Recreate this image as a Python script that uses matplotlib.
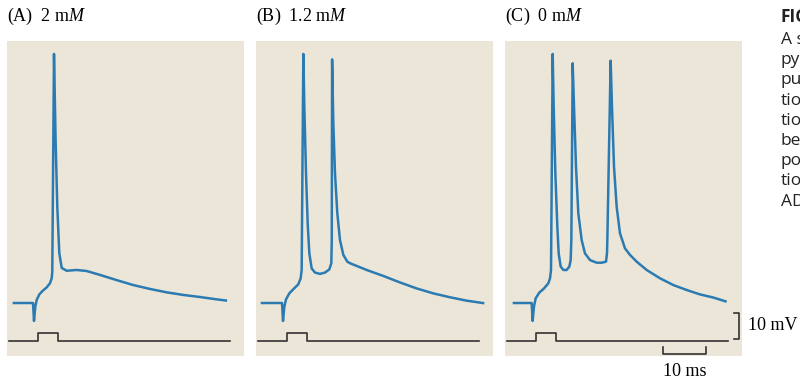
import matplotlib.pyplot as plt

# membrane potential traces (time in ms, voltage in mV)
t_a = [1.3, 6.05, 6.28, 6.58, 6.91, 7.51, 8.30, 9.23, 10.0, 10.40, 10.53, 10.93,
       11.3, 11.7, 12.16, 12.72, 13.88, 16.21, 18.53, 21.63, 25.51, 29.37, 33.26,
       37.14, 41.0, 44.88, 48.77, 51.19]
v_a = [-65, -65, -71.9, -66.4, -63.8, -61.7, -60.3, -59.0, -57.4, -55.5, -53.0, 30.8,
       -2.3, -28.1, -45.8, -51.5, -52.6, -52.3, -52.7, -54.2, -56.2, -58.1, -59.6,
       -60.9, -61.9, -62.7, -63.6, -64.1]

t_b = [1.09, 6.05, 6.28, 6.59, 6.98, 7.75, 8.68, 9.84, 10.39, 10.62, 11.01, 11.24,
       11.63, 12.02, 12.40, 12.95, 13.72, 14.88, 16.05, 17.05, 17.52, 17.62, 17.70,
       17.98, 18.37, 18.91, 19.53, 20.31, 21.24, 21.86, 25.74, 29.61, 33.49, 37.36,
       41.24, 45.12, 48.99, 53.1]
v_b = [-65, -65, -71.9, -66.4, -63.6, -61.3, -59.7, -57.8, -55.5, -52.3, 30.8, 10.5,
       -15.1, -34.4, -45.9, -51.7, -53.3, -53.8, -53.3, -52.1, -49.7, -40.8, 28.7,
       4.1, -15.1, -30.5, -40.8, -46.5, -49.1, -49.7, -52.3, -54.6, -57.1, -59.4,
       -61.3, -62.8, -64.1, -65.1]

t_c = [1.78, 6.20, 6.43, 6.74, 7.13, 7.98, 9.07, 10.08, 10.47, 10.70, 11.09, 11.32,
       11.71, 12.17, 12.48, 12.95, 13.57, 14.34, 14.96, 15.27, 15.43, 15.74, 16.05,
       16.51, 17.05, 17.83, 18.60, 19.77, 21.32, 22.48, 23.49, 23.72, 23.80, 24.57,
       24.88, 25.35, 25.97, 26.74, 27.91, 29.07, 30.62, 32.95, 36.05, 39.15, 42.25,
       45.35, 48.45, 51.55]
v_c = [-65, -65, -71.9, -66.4, -63.2, -61.0, -59.4, -57.4, -55.5, -52.3, 30.8, 10.5,
       -15.1, -35.6, -45.9, -51.0, -52.3, -52.3, -51.0, -48.5, -40.8, 27.2, 10.5,
       -12.6, -30.5, -40.8, -45.9, -48.5, -49.5, -49.5, -49.1, -45.9, -40.8, 28.2,
       10.5, -12.6, -28.0, -38.2, -44.0, -46.5, -49.1, -52.3, -55.5, -58.1, -60.0,
       -61.7, -62.9, -64.5]

# stimulus pulse (ms)
stim_t = [0.4, 7.3, 7.3, 11.8, 11.8, 51.8]
stim_v = [-79.6, -79.6, -76.5, -76.5, -79.6, -79.6]

titles = ['(A)  2 m$\\mathit{M}$', '(B)  1.2 m$\\mathit{M}$', '(C)  0 m$\\mathit{M}$']
caption = ['FIG', 'A s', 'py', 'pu', 'tio', 'tio', 'be', 'po', 'tio', 'AD']

plt.rcParams['mathtext.fontset'] = 'custom'
plt.rcParams['mathtext.rm'] = 'Liberation Serif'
plt.rcParams['mathtext.it'] = 'Liberation Serif:italic'

W, H = 800, 381
fig = plt.figure(figsize=(8, 3.81), dpi=100)

px_ms = 4.3
px_mv = 2.6
lefts = [7, 256, 505]
pw = 237
bottom, top = 356, 41
blue = '#2b7bb2'
bg = '#ece6d8'

traces = [(t_a, v_a), (t_b, v_b), (t_c, v_c)]
axes = []
for i, (t, v) in enumerate(traces):
    ax = fig.add_axes([lefts[i] / W, (H - bottom) / H, pw / W, (bottom - top) / H])
    ax.set_facecolor(bg)
    ax.set_xlim(0, pw / px_ms)
    ax.set_ylim(-65 - (bottom - 303) / px_mv, -65 + (303 - top) / px_mv)
    for s in ax.spines.values():
        s.set_visible(False)
    ax.set_xticks([])
    ax.set_yticks([])
    ax.plot(stim_t, stim_v, color='#333333', lw=1.2)
    ax.plot(t, v, color=blue, lw=1.8, solid_joinstyle='round', solid_capstyle='butt')
    fig.text(lefts[i] / W, 1 - 16 / H, titles[i], family='Liberation Serif',
             fontsize=13, va='center', ha='left')
    axes.append(ax)

# scale bars on panel C
axc = axes[2]
axc.plot([36.7, 36.7, 46.7, 46.7], [-81.9, -84.5, -84.5, -81.9], color='#333333', lw=1.2)
axc.text(41.7, -91.2, '10 ms', family='Liberation Serif', fontsize=13,
         ha='center', va='center', clip_on=False)
axc.plot([53.3, 54.4, 54.4, 53.3], [-68.8, -68.8, -78.8, -78.8], color='#333333',
         lw=1.2, clip_on=False)
axc.text(56.5, -73.6, '10 mV', family='Liberation Serif', fontsize=13,
         ha='left', va='center', clip_on=False)

# caption fragment cut off at the right edge
for j, line in enumerate(caption):
    y = 17 if j == 0 else 40 + 20.2 * (j - 1)
    fig.text(781 / W, 1 - y / H, line, family='Open Sans',
             fontsize=12.5, fontweight='bold' if j == 0 else 'normal',
             va='center', ha='left', color='#222222')

fig.savefig('out.png', dpi=100)
